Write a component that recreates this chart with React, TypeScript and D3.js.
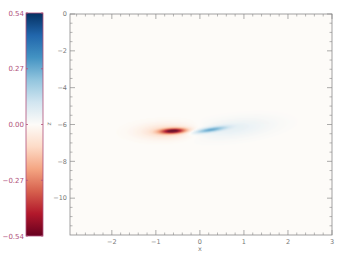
import React from "react";
import * as d3 from "d3";

const W = 349, H = 262;
// colour bar ticks
const cbTicks = [0.54, 0.27, 0.0, -0.27, -0.54];
const cbTickLabels = ["0.54", "0.27", "0.00", "\u22120.27", "\u22120.54"];
// axes ticks
const xTicks = [-2, -1, 0, 1, 2, 3];
const xTickLabels = ["\u22122", "\u22121", "0", "1", "2", "3"];
const yTicks = [0, -2, -4, -6, -8, -10];
const yTickLabels = ["0", "\u22122", "\u22124", "\u22126", "\u22128", "\u221210"];
// field components (gaussian lobes): centre x, centre z, amplitude, widths, tilt
const lobeX = [-0.62, -0.78, 0.22, 0.75];
const lobeZ = [-6.36, -6.38, -6.3, -6.22];
const lobeAmp = [-0.5, -0.11, 0.26, 0.055];
const lobeSx = [0.2, 0.42, 0.25, 0.6];
const lobeSz = [0.1, 0.28, 0.09, 0.36];
const lobeTilt = [0.12, 0.05, 0.36, 0.25];

const rdbu = ["#67001f", "#b2182b", "#d6604d", "#f4a582", "#fddbc7", "#fdfbf8", "#d1e5f0", "#92c5de", "#4393c3", "#2166ac", "#053061"];

export default function App() {
  const pl = 70, pr = 332, pt = 14, pb = 235;
  const x = d3.scaleLinear().domain([-2.95, 3]).range([pl, pr]);
  const y = d3.scaleLinear().domain([0, -12]).range([pt, pb]);
  const cbY = d3.scaleLinear().domain([0.54, -0.54]).range([13, 236]);
  const color = d3.scaleLinear<string>()
    .domain(d3.range(11).map(i => -0.54 + (i * 1.08) / 10))
    .range(rdbu).clamp(true);

  const field = (px: number, pz: number) => {
    let v = 0;
    for (let i = 0; i < lobeX.length; i++) {
      const dx = px - lobeX[i];
      const dz = pz - lobeZ[i] - lobeTilt[i] * dx;
      v += lobeAmp[i] * Math.exp(-(dx * dx) / (2 * lobeSx[i] ** 2) - (dz * dz) / (2 * lobeSz[i] ** 2));
    }
    return v;
  };

  const cells: JSX.Element[] = [];
  const stepX = 1 / 44, stepZ = 1 / 18.4;
  for (let gx = -2.0; gx < 2.2; gx += stepX) {
    for (let gz = -8.0; gz < -4.6; gz += stepZ) {
      const v = field(gx, gz);
      if (Math.abs(v) < 0.003) continue;
      cells.push(
        <rect key={`${gx.toFixed(3)}_${gz.toFixed(3)}`} x={x(gx)} y={y(gz + stepZ)} width={x(gx + stepX) - x(gx) + 0.3} height={y(gz) - y(gz + stepZ) + 0.3} fill={color(v)} />
      );
    }
  }

  const cbStops = d3.range(0, 1.0001, 0.1);
  const axisColor = "#8a8a8a";
  const labelColor = "#777";
  const pink = "#b0507a";
  const xMinor = d3.range(-2.8, 3.0001, 0.2).filter(v => Math.abs(v - Math.round(v)) > 1e-6);
  const yMinor = d3.range(0, -12.0001, -0.5).filter(v => Math.abs(v / 2 - Math.round(v / 2)) > 1e-6);

  return (
    <svg width={W} height={H} style={{ position: "absolute", left: 0, top: 0, fontFamily: "DejaVu Sans, sans-serif" }}>
      <defs>
        <linearGradient id="cb" x1="0" y1="1" x2="0" y2="0">
          {cbStops.map((s, i) => (
            <stop key={i} offset={s} stopColor={color(-0.54 + s * 1.08)} />
          ))}
        </linearGradient>
        <clipPath id="plotclip">
          <rect x={pl} y={pt} width={pr - pl} height={pb - pt} />
        </clipPath>
      </defs>
      <rect width={W} height={H} fill="#fff" />
      {/* colour bar */}
      <rect x={26} y={13} width={17} height={223} fill="url(#cb)" stroke={pink} strokeWidth={0.8} />
      {cbTicks.map((t, i) => (
        <g key={i}>
          <line x1={26} x2={28} y1={cbY(t)} y2={cbY(t)} stroke={pink} strokeWidth={0.8} />
          <line x1={41} x2={43} y1={cbY(t)} y2={cbY(t)} stroke={pink} strokeWidth={0.8} />
          <text x={24} y={cbY(t) + 2.5} fontSize={7} fill={pink} textAnchor="end">{cbTickLabels[i]}</text>
        </g>
      ))}
      <text x={49} y={124} fontSize={6} fill={labelColor} textAnchor="middle" transform="rotate(-90 49 124)" dy={2}>z</text>
      {/* plot */}
      <rect x={pl} y={pt} width={pr - pl} height={pb - pt} fill="#fdfbf8" />
      <g clipPath="url(#plotclip)">{cells}</g>
      <rect x={pl} y={pt} width={pr - pl} height={pb - pt} fill="none" stroke={axisColor} strokeWidth={0.8} />
      {xTicks.map((t, i) => (
        <g key={i}>
          <line x1={x(t)} x2={x(t)} y1={pb} y2={pb - 5} stroke={axisColor} strokeWidth={0.7} />
          <line x1={x(t)} x2={x(t)} y1={pt} y2={pt + 5} stroke={axisColor} strokeWidth={0.7} />
          <text x={x(t)} y={pb + 9} fontSize={6.5} fill={labelColor} textAnchor="middle">{xTickLabels[i]}</text>
        </g>
      ))}
      {xMinor.map((t, i) => (
        <g key={i}>
          <line x1={x(t)} x2={x(t)} y1={pb} y2={pb - 2.5} stroke={axisColor} strokeWidth={0.6} />
          <line x1={x(t)} x2={x(t)} y1={pt} y2={pt + 2.5} stroke={axisColor} strokeWidth={0.6} />
        </g>
      ))}
      {yTicks.map((t, i) => (
        <g key={i}>
          <line x1={pl} x2={pl + 5} y1={y(t)} y2={y(t)} stroke={axisColor} strokeWidth={0.7} />
          <line x1={pr} x2={pr - 5} y1={y(t)} y2={y(t)} stroke={axisColor} strokeWidth={0.7} />
          <text x={pl - 3} y={y(t) + 2.3} fontSize={6.5} fill={labelColor} textAnchor="end">{yTickLabels[i]}</text>
        </g>
      ))}
      {yMinor.map((t, i) => (
        <g key={i}>
          <line x1={pl} x2={pl + 2.5} y1={y(t)} y2={y(t)} stroke={axisColor} strokeWidth={0.6} />
          <line x1={pr} x2={pr - 2.5} y1={y(t)} y2={y(t)} stroke={axisColor} strokeWidth={0.6} />
        </g>
      ))}
      <text x={x(0)} y={251} fontSize={6.5} fill={labelColor} textAnchor="middle">x</text>
    </svg>
  );
}
